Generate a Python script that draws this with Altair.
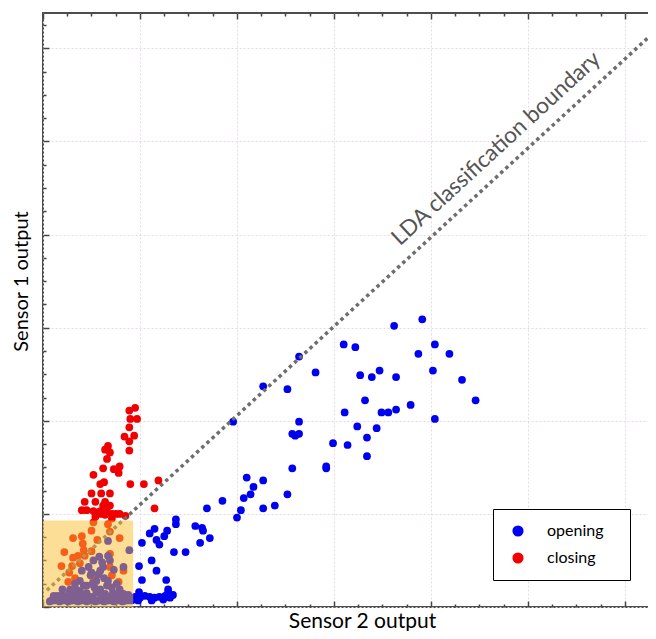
import altair as alt
import pandas as pd

# ---------------- data (axis units = grid cells) ----------------
opening_x = [3.91, 3.62, 3.10, 3.22, 4.04, 3.87, 4.19, 2.64, 2.81, 3.27, 3.39, 3.47, 3.64, 4.02, 4.32,
             2.27, 2.52, 3.32, 4.46, 3.11, 3.49, 3.56, 3.64, 3.79, 4.04, 1.96, 2.64, 2.57, 2.60, 2.64,
             3.24, 3.44, 3.34, 2.99, 3.14, 3.34, 2.92, 2.92, 2.57, 2.10, 2.27, 2.17, 2.14, 2.52, 2.07,
             1.85, 2.39, 2.27, 2.04, 1.69, 2.00, 1.64,
             1.37, 1.37, 1.57, 1.65, 1.15, 1.10, 1.28, 1.25, 1.17, 1.20, 1.02, 1.72, 1.62, 1.35, 1.47,
             1.12, 0.99, 1.17, 1.02, 1.27, 1.29, 1.29, 0.99,
             0.95, 1.00, 1.05, 1.10, 1.15, 1.20, 1.26, 1.31, 1.34, 0.98, 1.12, 1.24,
             0.09, 0.14, 0.19, 0.24, 0.29, 0.33, 0.38, 0.43, 0.47, 0.52, 0.57, 0.61, 0.66, 0.70, 0.75,
             0.80, 0.85, 0.89, 0.93, 0.11, 0.20, 0.27, 0.36, 0.45, 0.55, 0.64, 0.72, 0.83, 0.20, 0.28,
             0.33, 0.38, 0.45, 0.49, 0.55, 0.57, 0.59, 0.66, 0.76, 0.79, 0.76, 0.88, 0.47, 0.62, 0.83,
             0.52, 0.58, 0.67, 0.67, 0.89, 0.40, 0.50, 0.59, 0.61, 0.69, 0.67, 0.42, 0.35,
             0.07, 0.12, 0.17, 0.22, 0.26, 0.31, 0.36, 0.40, 0.45, 0.50, 0.54, 0.59, 0.63, 0.68, 0.73,
             0.78, 0.82, 0.87, 0.91, 0.15, 0.24, 0.32, 0.41, 0.50, 0.60, 0.69, 0.79, 0.88, 0.53, 0.71,
             0.38, 0.63, 0.51, 0.73]
opening_y = [3.09, 3.02, 2.82, 2.79, 2.82, 2.72, 2.72, 2.69, 2.52, 2.49, 2.47, 2.54, 2.47, 2.54, 2.44,
             2.37, 2.34, 2.22, 2.22, 2.09, 2.09, 2.09, 2.12, 2.17, 2.02, 1.99, 1.99, 1.86, 1.84, 1.86,
             1.94, 1.92, 1.82, 1.76, 1.74, 1.62, 1.51, 1.49, 1.49, 1.39, 1.36, 1.29, 1.21, 1.21, 1.17,
             1.14, 1.09, 1.06, 1.04, 1.06, 0.96, 0.85,
             0.94, 0.89, 0.87, 0.82, 0.84, 0.79, 0.82, 0.76, 0.72, 0.67, 0.69, 0.74, 0.69, 0.59, 0.59,
             0.50, 0.44, 0.39, 0.29, 0.29, 0.19, 0.16, 0.16,
             0.11, 0.10, 0.12, 0.11, 0.10, 0.11, 0.12, 0.10, 0.13, 0.07, 0.07, 0.08,
             0.07, 0.09, 0.07, 0.10, 0.07, 0.10, 0.07, 0.10, 0.07, 0.09, 0.07, 0.11, 0.07, 0.10, 0.07,
             0.11, 0.07, 0.11, 0.08, 0.12, 0.13, 0.15, 0.14, 0.15, 0.16, 0.14, 0.15, 0.14, 0.19, 0.19,
             0.25, 0.28, 0.23, 0.34, 0.28, 0.35, 0.19, 0.23, 0.25, 0.19, 0.14, 0.13, 0.43, 0.43, 0.43,
             0.50, 0.54, 0.55, 0.71, 0.61, 0.39, 0.37, 0.39, 0.48, 0.50, 0.28, 0.23, 0.18,
             0.06, 0.07, 0.06, 0.07, 0.06, 0.07, 0.06, 0.07, 0.06, 0.07, 0.06, 0.07, 0.06, 0.07, 0.06,
             0.07, 0.06, 0.07, 0.07, 0.12, 0.11, 0.12, 0.12, 0.11, 0.12, 0.11, 0.12, 0.10, 0.21, 0.21,
             0.17, 0.31, 0.25, 0.40]

closing_x = [0.95, 0.89, 0.90, 0.97, 0.89, 0.84, 0.94, 0.89, 0.89, 0.67, 0.64, 0.69, 0.66, 0.79, 0.62,
             0.73, 0.78, 0.52, 0.63, 0.59, 0.90, 1.04, 1.19, 0.50, 0.60, 0.69, 0.43, 0.54, 0.64, 0.62,
             0.69, 0.40, 0.45, 0.52, 0.59, 0.66, 0.71, 0.79, 1.15, 0.59, 0.64, 0.75, 0.85, 0.71, 0.54,
             0.52, 0.67, 0.50, 0.69, 0.31, 0.40, 0.79, 0.56, 0.41, 0.42, 0.50, 0.22, 0.31, 0.36, 0.43,
             0.69, 0.19, 0.30, 0.38, 0.27, 0.69, 0.83, 0.33, 0.26, 0.52, 0.71, 0.78, 0.43, 0.35]
closing_y = [2.14, 2.11, 2.02, 2.02, 1.93, 1.83, 1.84, 1.78, 1.68, 1.73, 1.69, 1.66, 1.59, 1.51, 1.49,
             1.48, 1.44, 1.42, 1.34, 1.32, 1.32, 1.32, 1.36, 1.22, 1.22, 1.22, 1.13, 1.13, 1.13, 1.09,
             1.09, 1.04, 1.04, 1.03, 1.03, 1.03, 1.00, 1.00, 1.06, 1.00, 0.99, 1.00, 0.98, 0.95, 0.97,
             0.91, 0.89, 0.82, 0.81, 0.74, 0.76, 0.74, 0.72, 0.68, 0.61, 0.60, 0.59, 0.53, 0.55, 0.55,
             0.57, 0.44, 0.44, 0.47, 0.37, 0.43, 0.39, 0.31, 0.27, 0.30, 0.34, 0.27, 0.23, 0.18]

classes = ["opening", "closing"]
class_colors = ["#0000f0", "#f00000"]

boundary_x = [0.04, 6.39]
boundary_y = [0.18, 6.26]
boundary_text = "LDA classification boundary"
boundary_label_x = [4.72]
boundary_label_y = [4.87]

highlight_x = [0.0]
highlight_x2 = [0.93]
highlight_y = [0.0]
highlight_y2 = [0.93]

x_tick_values = [0, 0.25, 0.5, 0.75, 1, 1.25, 1.5, 1.75, 2, 2.25, 2.5, 2.75, 3, 3.25, 3.5, 3.75,
                 4, 4.25, 4.5, 4.75, 5, 5.25, 5.5, 5.75, 6, 6.25]
y_tick_values = [0, 0.25, 0.5, 0.75, 1, 1.25, 1.5, 1.75, 2, 2.25, 2.5, 2.75, 3, 3.25, 3.5, 3.75,
                 4, 4.25, 4.5, 4.75, 5, 5.25, 5.5, 5.75, 6, 6.25]
x_domain = [0, 6.392]
y_domain = [0, 6.38]

# ---------------- tables ----------------
points = pd.concat([
    pd.DataFrame({"x": closing_x, "y": closing_y, "cls": "closing", "ord": 0}),
    pd.DataFrame({"x": opening_x, "y": opening_y, "cls": "opening", "ord": 1}),
], ignore_index=True)
boundary = pd.DataFrame({"x": boundary_x, "y": boundary_y})
label = pd.DataFrame({"x": boundary_label_x, "y": boundary_label_y, "t": [boundary_text]})
highlight = pd.DataFrame({"x": highlight_x, "x2": highlight_x2, "y": highlight_y, "y2": highlight_y2})

xs = alt.Scale(domain=x_domain, nice=False, zero=False)
ys = alt.Scale(domain=y_domain, nice=False, zero=False)

MINOR = "datum.value % 1 !== 0"
tick_dash = {"condition": {"test": MINOR, "value": [0, 3, 3]}, "value": [6, 0]}
grid_op = {"condition": {"test": MINOR, "value": 0}, "value": 1}

common = dict(offset=-6, domain=False, labels=False, ticks=True, tickSize=6,
              tickColor="#444444", tickWidth=1.5, tickDash=tick_dash)

bottom_axis = alt.Axis(orient="bottom", values=x_tick_values, grid=True, gridColor="#e4d8e6",
                       gridDash=[2, 2], gridWidth=1, gridOpacity=grid_op,
                       title="Sensor 2 output", titleFont="Lato", titleFontSize=21,
                       titleFontWeight="normal", titleColor="#000000",
                       titleBaseline="alphabetic", titleX=319, titleY=26, **common)
left_axis = alt.Axis(orient="left", values=y_tick_values, grid=True, gridColor="#e4d8e6",
                     gridDash=[2, 2], gridWidth=1, gridOpacity=grid_op,
                     title="Sensor 1 output", titleFont="Lato", titleFontSize=20,
                     titleFontWeight="normal", titleColor="#000000", titlePadding=11,
                     titleY=268, **common)
top_axis = alt.Axis(orient="top", values=x_tick_values, grid=False, title="", **common)
right_axis = alt.Axis(orient="right", values=y_tick_values, grid=False, title="", **common)

BLANK = "\u2800"
pts = alt.Chart(points).mark_circle(size=60, opacity=1).encode(
    x=alt.X("x:Q", scale=xs, axis=bottom_axis),
    y=alt.Y("y:Q", scale=ys, axis=left_axis),
    color=alt.Color("cls:N", scale=alt.Scale(domain=classes, range=class_colors),
                    legend=alt.Legend(title=None, orient="none", legendX=450, legendY=496,
                                      direction="vertical", fillColor="white", strokeColor="#000000",
                                      padding=14, rowPadding=11, symbolType="circle",
                                      symbolSize=125, symbolStrokeWidth=0, symbolOffset=3,
                                      labelOffset=21, labelFont="Lato", labelFontSize=16,
                                      labelColor="#000000",
                                      labelExpr="datum.label + '" + BLANK + "'")),
    order=alt.Order("ord:Q"),
)

line = alt.Chart(boundary).mark_line(color="#6e6e6e", strokeWidth=3.5, strokeDash=[3.5, 3.5],
                                     strokeCap="butt").encode(
    x=alt.X("x:Q", scale=xs, axis=top_axis),
    y=alt.Y("y:Q", scale=ys, axis=right_axis),
)

rect = alt.Chart(highlight).mark_rect(color="#fbbd2d", opacity=0.5).encode(
    x=alt.X("x:Q", scale=xs, axis=None),
    x2="x2:Q",
    y=alt.Y("y:Q", scale=ys, axis=None),
    y2="y2:Q",
)

text = alt.Chart(label).mark_text(angle=317.4, font="Lato", fontSize=22.5, color="#555555",
                                  align="center", baseline="alphabetic").encode(
    x=alt.X("x:Q", scale=xs, axis=None),
    y=alt.Y("y:Q", scale=ys, axis=None),
    text="t:N",
)

chart = alt.layer(pts, line, rect, text).resolve_axis(
    x="independent", y="independent"
).properties(
    width=620, height=594,
    autosize=alt.AutoSizeParams(type="none"),
    padding={"left": 35, "top": 5, "right": -15, "bottom": 24},
).configure(font="Lato").configure_view(stroke="#4d4d4d", strokeWidth=2)

chart.save("out.html", embed_options={"renderer": "svg", "actions": False})
